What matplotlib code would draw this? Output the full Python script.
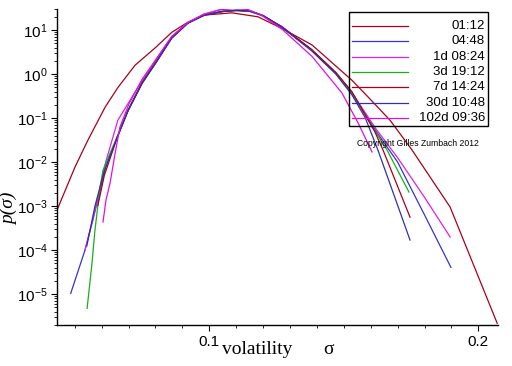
import numpy as np
import matplotlib
matplotlib.use("Agg")
import matplotlib.pyplot as plt
from matplotlib.ticker import FixedLocator, LogLocator, NullFormatter
from matplotlib.patches import Rectangle
from matplotlib.lines import Line2D

sans = 'Liberation Sans'
plt.rcParams['font.family'] = sans
plt.rcParams['mathtext.fontset'] = 'custom'
plt.rcParams['mathtext.rm'] = sans
plt.rcParams['mathtext.it'] = sans + ':italic'
plt.rcParams['axes.unicode_minus'] = False

# series labels and colours (legend order)
labels = ['01:12', '04:48', '1d 08:24', '3d 19:12', '7d 14:24', '30d 10:48', '102d 09:36']
colors = ['#a8001c', '#3434d0', '#e020e0', '#18b018', '#a8001c', '#3030a8', '#e010e0']

# volatility values and log10 p(sigma) for each horizon
x_0112 = [0.0434, 0.0501, 0.0549, 0.0613, 0.0661, 0.0724, 0.0798, 0.0861, 0.0921, 0.0984,
          0.1084, 0.1181, 0.1281, 0.1382, 0.1467, 0.1530, 0.1590, 0.1672, 0.1754, 0.1895, 0.2070]
y_0112 = [-3.09, -2.11, -1.50, -0.75, -0.30, 0.20, 0.59, 0.95, 1.18, 1.34,
          1.39, 1.30, 1.00, 0.66, 0.20, -0.14, -0.52, -1.05, -1.73, -3.02, -5.66]

x_0448 = [0.0485, 0.0538, 0.0568, 0.0613, 0.0657, 0.0698, 0.075, 0.080, 0.086, 0.092, 0.098, 0.105,
          0.110, 0.115, 0.120, 0.127, 0.138, 0.147, 0.153, 0.162, 0.170, 0.180, 0.1898]
y_0448 = [-4.98, -4.00, -3.30, -2.15, -1.45, -0.82, -0.20, 0.25, 0.82, 1.16, 1.34, 1.43,
          1.45, 1.43, 1.32, 1.07, 0.55, 0.02, -0.43, -1.30, -2.00, -3.20, -4.39]

x_1d = [0.0538, 0.0575, 0.0615, 0.066, 0.070, 0.075, 0.080, 0.086, 0.092, 0.098, 0.104,
        0.109, 0.114, 0.119, 0.127, 0.138, 0.147, 0.153, 0.162, 0.170, 0.180, 0.1895]
y_1d = [-4.00, -3.10, -2.00, -1.05, -0.65, -0.15, 0.30, 0.85, 1.17, 1.36, 1.46,
        1.49, 1.47, 1.35, 1.08, 0.55, 0.02, -0.42, -1.25, -1.90, -2.80, -3.70]

x_3d = [0.0546, 0.0564, 0.0575, 0.0594, 0.0605, 0.0631, 0.0657, 0.0698, 0.075, 0.080, 0.086, 0.092,
        0.098, 0.105, 0.110, 0.115, 0.120, 0.127, 0.138, 0.147, 0.153, 0.1616, 0.1661, 0.1742]
y_3d = [-5.32, -4.30, -3.55, -2.57, -2.18, -1.80, -1.43, -0.82, -0.20, 0.25, 0.82, 1.16,
        1.34, 1.42, 1.44, 1.42, 1.32, 1.06, 0.55, 0.03, -0.42, -1.30, -1.73, -2.68]

x_7d = [0.0586, 0.061, 0.0635, 0.0657, 0.0698, 0.075, 0.080, 0.086, 0.092, 0.098, 0.105,
        0.110, 0.115, 0.120, 0.127, 0.138, 0.147, 0.153, 0.1616, 0.1646, 0.1746]
y_7d = [-2.98, -2.30, -1.85, -1.45, -0.83, -0.20, 0.25, 0.82, 1.16, 1.34, 1.42,
        1.44, 1.43, 1.33, 1.07, 0.56, 0.04, -0.40, -1.32, -1.73, -3.25]

x_30d = [0.0545, 0.0575, 0.061, 0.0657, 0.0698, 0.075, 0.080, 0.086, 0.092, 0.098, 0.105,
         0.110, 0.115, 0.120, 0.127, 0.138, 0.147, 0.153, 0.158, 0.1627, 0.1746]
y_30d = [-3.90, -3.00, -2.20, -1.45, -0.84, -0.22, 0.24, 0.81, 1.15, 1.33, 1.42,
         1.45, 1.43, 1.33, 1.06, 0.53, 0.00, -0.47, -1.00, -1.73, -3.77]

x_102d = [0.0605, 0.0616, 0.0631, 0.065, 0.0668, 0.070, 0.075, 0.080, 0.086, 0.092,
          0.098, 0.104, 0.109, 0.114, 0.119, 0.127, 0.1382, 0.1493, 0.1553, 0.1605]
y_102d = [-3.36, -2.86, -2.48, -1.80, -1.20, -0.70, -0.12, 0.32, 0.85, 1.17,
          1.36, 1.46, 1.49, 1.47, 1.35, 1.02, 0.40, -0.43, -1.11, -1.77]

series = [(x_0112, y_0112), (x_0448, y_0448), (x_1d, y_1d), (x_3d, y_3d),
          (x_7d, y_7d), (x_30d, y_30d), (x_102d, y_102d)]

W, H = 512, 366
fig = plt.figure(figsize=(W / 100, H / 100), dpi=100)
ax = fig.add_axes([57 / W, 1 - 325 / H, (498 - 57) / W, (325 - 9) / H])

for (xs, ys), c in zip(series, colors):
    ax.plot(xs, 10 ** np.array(ys), color=c, lw=0.9)

ax.set_yscale('log')
ax.set_xlim(0.0434, 0.2073)
ax.set_ylim(2e-6, 3e1)

for s in ['top', 'right']:
    ax.spines[s].set_visible(False)
for s in ['left', 'bottom']:
    ax.spines[s].set_linewidth(1.0)

ax.xaxis.set_major_locator(FixedLocator([0.1, 0.2]))
ax.xaxis.set_minor_locator(FixedLocator([0.05 + 0.01 * i for i in range(16)]))
ax.set_xticklabels(['0.1', '0.2'], fontsize=11)
ax.yaxis.set_major_locator(FixedLocator([10.0 ** k for k in range(-5, 2)]))
ax.set_yticklabels([r'$10^{%d}$' % k for k in range(-5, 2)], fontsize=11)
ax.yaxis.set_minor_locator(LogLocator(base=10, subs=np.arange(2, 10), numticks=20))
ax.yaxis.set_minor_formatter(NullFormatter())
ax.tick_params(which='major', length=4.5, width=0.8, pad=2)
ax.tick_params(axis='x', which='major', pad=3)
ax.tick_params(which='minor', length=2.2, width=0.6)

fig.text(222 / W, 1 - 349 / H, 'volatility', family='Liberation Serif', fontsize=14,
         ha='left', va='center')
fig.text(328 / W, 1 - 349 / H, 'σ', family='Liberation Serif', fontsize=14,
         ha='center', va='center')
fig.text(9 / W, 1 - 209 / H, 'p(σ)', fontsize=14, rotation=90, ha='center', va='center',
         family='Liberation Serif', style='italic')

# legend box drawn by hand to get right aligned labels
ax.add_patch(Rectangle((349 / W, 1 - 126 / H), (488 - 349) / W, (126 - 12) / H,
                       transform=fig.transFigure, fill=False, ec='black', lw=1.0, zorder=5))
for i, (lab, c) in enumerate(zip(labels, colors)):
    yy = 1 - (26 + i * 15.3) / H
    fig.add_artist(Line2D([352 / W, 408 / W], [yy, yy], color=c, lw=0.9))
    fig.text(485 / W, yy, lab, fontsize=9.5, ha='right', va='center')

fig.text(418 / W, 1 - 144 / H, 'Copyright Gilles Zumbach 2012', fontsize=6.2,
         ha='center', va='center')

fig.savefig('out.png', dpi=100)
